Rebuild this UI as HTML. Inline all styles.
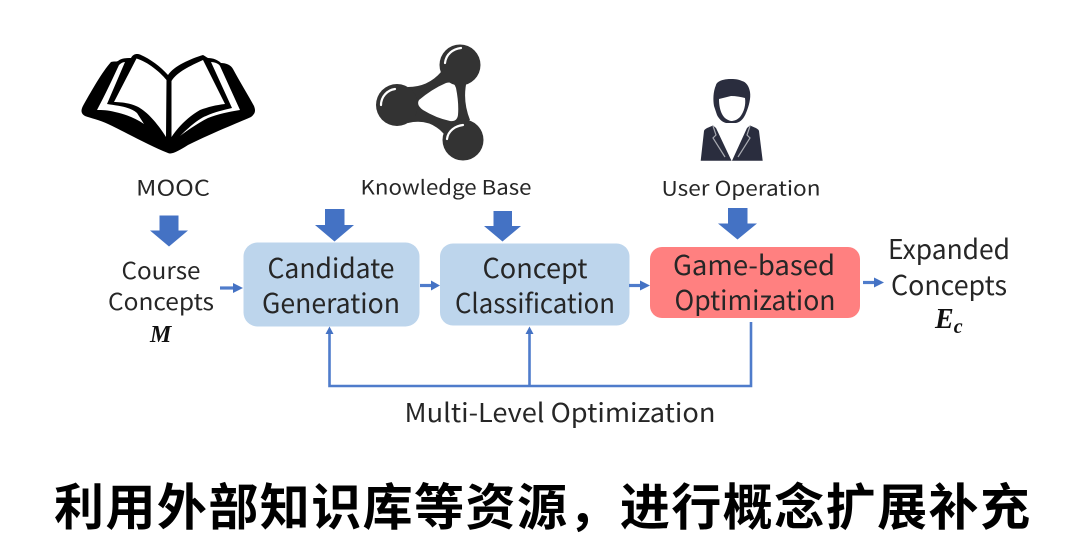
<!DOCTYPE html>
<html>
<head>
<meta charset="utf-8">
<style>
html,body{margin:0;padding:0;background:#fff;width:1080px;height:553px;overflow:hidden}
svg{display:block}
.t{font-family:"Noto Sans CJK SC","Liberation Sans",sans-serif;font-weight:400;fill:#262626;text-anchor:middle}
.m{font-family:"Liberation Serif",serif;font-style:italic;font-weight:bold;fill:#111}
.a{fill:#4472c4}
.l{stroke:#4f7ccb;stroke-width:2.600;fill:none}
.s{stroke:#4f7ccb;stroke-width:3.200;fill:none}
</style>
</head>
<body>
<svg width="1080" height="553" viewBox="0 0 1080 553" xmlns="http://www.w3.org/2000/svg">
<rect width="1080" height="553" fill="#fff"/>

<!-- book -->
<path fill="#000" d="M168 153 C150 146 125 132 108 124 C100 120 90 118 85 116 C80 113 81 109 84 104 C92 90 102 72 111 62 C114 61 116 62 118 61 C122 58 127 58 131 58 C133 54 137 53 141 55 C150 59 160 66 168 75 C174 66 190 59 203 55 C205 56 206 57 208 58 C213 58 218 60 221 63 C226 63 231 65 233 69 C240 82 248 95 254 106 C256 111 255 114 251 117 C235 124 210 134 188 145 C180 150 172 155 168 153 Z"/>
<path fill="#fff" d="M136.500 58.500 C148 62 160 72 166.500 80 L166 137 C158 124 146 110 136 106 C129 103 120 102 114 102 Z"/>
<path fill="#fff" d="M171.500 81 C177 72 190 66 203 60 L225 104 C216 105 208 107 200 110 C188 117 178 127 171.500 137 Z"/>
<path fill="#fff" d="M125 62 L107 104 C120 106 130 107 137 113 L144 124 C135 118 125 114 115 112 C108 110 102 110 97 110 C105 95 113 78 119 65 C121 63 123 62 125 62 Z"/>
<path fill="#fff" d="M211 62 C215 62 219 64 220 66 L240 110 C228 112 218 114 208 118 C198 123 188 130 180 136 C190 126 200 118 206 116 C214 112 224 110 232 108 Z"/>

<!-- network -->
<g fill="#333">
<path fill-rule="evenodd" d="M408 87 Q428 87 441 72 L467 80 Q462 100 470 120 L444 134 Q430 118 408 123 Z M419 100 Q432 89 446 83 Q454 81 456 88 Q459 103 458 115 Q457 122 450 121 Q436 118 423 110 Q416 105 419 100 Z"/>
<circle cx="460" cy="65" r="20.500"/>
<circle cx="397" cy="105" r="21"/>
<circle cx="463" cy="140" r="20.500"/>
</g>
<g fill="none" stroke="#fff" stroke-width="2.200" stroke-linecap="round">
<path d="M445 63 C446 54 453 49 461 48"/>
<path d="M381 105 C381 97 387 90 395 89"/>
<path d="M447 139 C448 131 455 126 463 125"/>
</g>

<!-- person -->
<path fill="#2a2d3e" fill-rule="evenodd" d="M730 79 C724 79 717 81 716 85 C713 92 713 100 714 106 L717 115 C719 119 722 122 726 123 L736 123 C741 122 744 118 746 113 C749 106 751 98 750 92 C749 86 746 82 742 81 C738 79 734 79 730 79 Z M719 99 C723 98 727 97 731 96 C736 96 741 97 745 98 C746 105 744 112 740 117 C737 120 734 121 731 121 C727 120 724 118 722 114 C720 110 719 105 719 99 Z"/>
<path fill="#2a2d3e" d="M700.700 160.700 L704 131 C704.500 129 707 128 713 125.500 L716 128 L731.500 160.700 Z"/>
<path fill="#2a2d3e" d="M762.700 160.700 L759 131 C758.500 129 756 128 750 125.500 L747 128 L732 160.700 Z"/>
<path fill="none" stroke="#a9abb2" stroke-width="1.200" d="M713 126 L716 135 L713 138 L725 157 M750 126 L747 135 L750 138 L738 157"/>

<!-- big arrows -->
<path class="a" d="M159.500 215.500 H178.500 V230.500 H188 L169 246.500 L150 230.500 H159.500 Z"/>
<path class="a" d="M325 209 H344.500 V225 H354 L334.500 241.500 L315 225 H325 Z"/>
<path class="a" d="M493.500 211 H512 V226 H521 L502.500 241.500 L484 226 H493.500 Z"/>
<path class="a" d="M728 208 H747.500 V223.500 H757 L737.500 239.500 L718 223.500 H728 Z"/>

<!-- boxes -->
<rect x="243.500" y="242.500" width="176" height="84" rx="14" fill="#bdd5ec"/>
<rect x="440" y="243.500" width="189.500" height="82" rx="13" fill="#bdd5ec"/>
<rect x="650" y="247" width="210" height="71" rx="12" fill="#ff8080"/>

<!-- small arrows -->
<path class="s" d="M220 288 H235"/><path class="a" d="M233 283 L243 288 L233 293 Z"/>
<path class="s" d="M420 285.500 H433"/><path class="a" d="M431 280.500 L440 285.500 L431 290.500 Z"/>
<path class="s" d="M629 285.500 H642"/><path class="a" d="M640 280.500 L650 285.500 L640 290.500 Z"/>
<path class="s" d="M863 282.500 H876"/><path class="a" d="M874 277.500 L884 282.500 L874 287.500 Z"/>

<!-- feedback -->
<path class="l" d="M751 322 V386 H329.500 V334"/>
<path class="l" d="M529.500 386 V334"/>
<path class="a" d="M329.500 326.500 L333.500 334 H325.500 Z"/>
<path class="a" d="M529.500 326.500 L533.500 334 H525.500 Z"/>

<!-- labels -->
<text class="t" x="173" y="195.500" font-size="21" textLength="74" lengthAdjust="spacingAndGlyphs">MOOC</text>
<text class="t" x="446" y="194.500" font-size="20" textLength="171" lengthAdjust="spacingAndGlyphs">Knowledge Base</text>
<text class="t" x="741" y="195.500" font-size="20" textLength="159" lengthAdjust="spacingAndGlyphs">User Operation</text>
<text class="t" x="161" y="279" font-size="23" textLength="79" lengthAdjust="spacingAndGlyphs">Course</text>
<text class="t" x="161" y="310" font-size="23" textLength="106" lengthAdjust="spacingAndGlyphs">Concepts</text>
<text class="m" x="150" y="342" font-size="24">M</text>
<text class="t" x="331" y="278" font-size="27" textLength="127" lengthAdjust="spacingAndGlyphs">Candidate</text>
<text class="t" x="331" y="313" font-size="27" textLength="138" lengthAdjust="spacingAndGlyphs">Generation</text>
<text class="t" x="535" y="278" font-size="27" textLength="105" lengthAdjust="spacingAndGlyphs">Concept</text>
<text class="t" x="535" y="313" font-size="27" textLength="160" lengthAdjust="spacingAndGlyphs">Classification</text>
<text class="t" x="754" y="275" font-size="27" textLength="162" lengthAdjust="spacingAndGlyphs">Game-based</text>
<text class="t" x="755" y="310" font-size="27" textLength="161" lengthAdjust="spacingAndGlyphs">Optimization</text>
<text class="t" x="949" y="259" font-size="27" textLength="122" lengthAdjust="spacingAndGlyphs">Expanded</text>
<text class="t" x="949" y="295" font-size="27" textLength="116" lengthAdjust="spacingAndGlyphs">Concepts</text>
<text class="m" x="935" y="328" font-size="28">E<tspan font-size="20" dy="5">c</tspan></text>
<text class="t" x="560" y="422" font-size="26" textLength="311" lengthAdjust="spacingAndGlyphs">Multi-Level Optimization</text>

<text x="542" y="525" font-family="'Noto Sans CJK SC','WenQuanYi Zen Hei',sans-serif" font-weight="700" font-size="50" fill="#000" text-anchor="middle" textLength="976" lengthAdjust="spacing">利用外部知识库等资源，进行概念扩展补充</text>
</svg>
</body>
</html>
